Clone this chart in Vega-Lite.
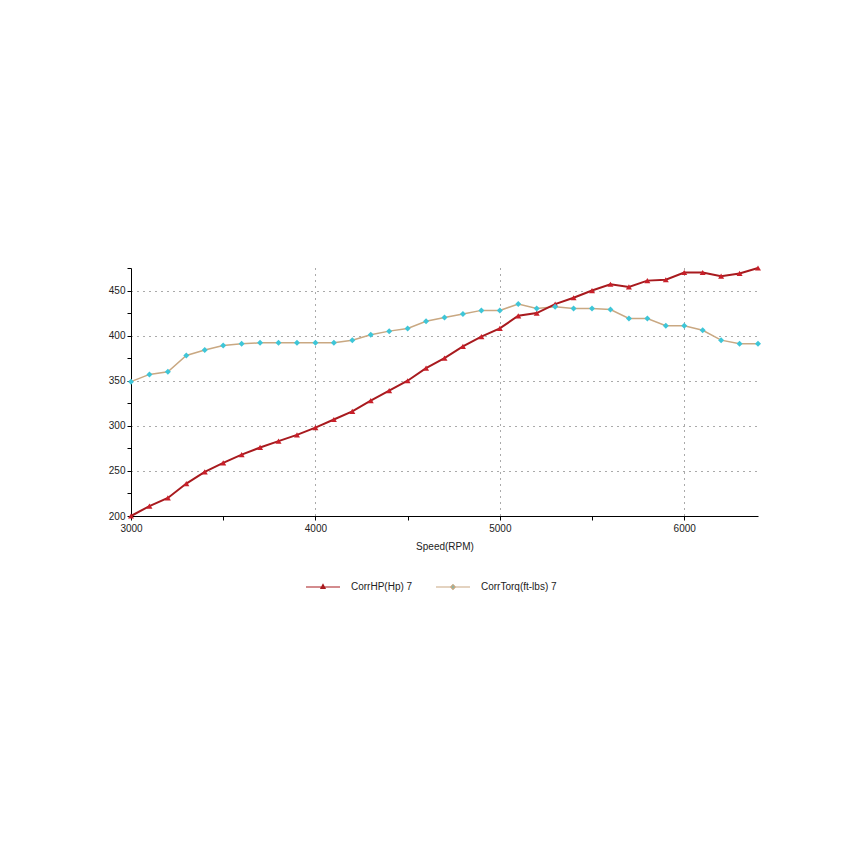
{
  "$schema": "https://vega.github.io/schema/vega-lite/v6.json",
  "width": 627,
  "height": 248,
  "autosize": {"type": "none"},
  "padding": {"left": 131, "top": 268, "right": 92, "bottom": 334},
  "background": "white",
  "config": {
    "view": {"stroke": null},
    "font": "Liberation Sans",
    "axis": {"labelFont": "Liberation Sans", "titleFont": "Liberation Sans", "labelFontSize": 10, "labelColor": "#222", "titleColor": "#222", "titleFontWeight": "normal", "titleFontSize": 10, "domainColor": "#000", "tickColor": "#000", "gridColor": "#555", "gridDash": [1, 5]},
    "legend": {"labelFont": "Liberation Sans", "labelFontSize": 10, "labelColor": "#222"}
  },
  "data": {
    "values": [
      {"rpm": 3000, "series": "CorrHP(Hp) 7", "value": 200},
      {"rpm": 3100, "series": "CorrHP(Hp) 7", "value": 211},
      {"rpm": 3200, "series": "CorrHP(Hp) 7", "value": 220},
      {"rpm": 3300, "series": "CorrHP(Hp) 7", "value": 236},
      {"rpm": 3400, "series": "CorrHP(Hp) 7", "value": 249},
      {"rpm": 3500, "series": "CorrHP(Hp) 7", "value": 259},
      {"rpm": 3600, "series": "CorrHP(Hp) 7", "value": 268},
      {"rpm": 3700, "series": "CorrHP(Hp) 7", "value": 276},
      {"rpm": 3800, "series": "CorrHP(Hp) 7", "value": 283},
      {"rpm": 3900, "series": "CorrHP(Hp) 7", "value": 290},
      {"rpm": 4000, "series": "CorrHP(Hp) 7", "value": 298},
      {"rpm": 4100, "series": "CorrHP(Hp) 7", "value": 307},
      {"rpm": 4200, "series": "CorrHP(Hp) 7", "value": 316},
      {"rpm": 4300, "series": "CorrHP(Hp) 7", "value": 328},
      {"rpm": 4400, "series": "CorrHP(Hp) 7", "value": 339},
      {"rpm": 4500, "series": "CorrHP(Hp) 7", "value": 350},
      {"rpm": 4600, "series": "CorrHP(Hp) 7", "value": 364},
      {"rpm": 4700, "series": "CorrHP(Hp) 7", "value": 375},
      {"rpm": 4800, "series": "CorrHP(Hp) 7", "value": 388},
      {"rpm": 4900, "series": "CorrHP(Hp) 7", "value": 399},
      {"rpm": 5000, "series": "CorrHP(Hp) 7", "value": 408},
      {"rpm": 5100, "series": "CorrHP(Hp) 7", "value": 422},
      {"rpm": 5200, "series": "CorrHP(Hp) 7", "value": 425},
      {"rpm": 5300, "series": "CorrHP(Hp) 7", "value": 435},
      {"rpm": 5400, "series": "CorrHP(Hp) 7", "value": 442},
      {"rpm": 5500, "series": "CorrHP(Hp) 7", "value": 450},
      {"rpm": 5600, "series": "CorrHP(Hp) 7", "value": 457},
      {"rpm": 5700, "series": "CorrHP(Hp) 7", "value": 454},
      {"rpm": 5800, "series": "CorrHP(Hp) 7", "value": 461},
      {"rpm": 5900, "series": "CorrHP(Hp) 7", "value": 462},
      {"rpm": 6000, "series": "CorrHP(Hp) 7", "value": 470},
      {"rpm": 6100, "series": "CorrHP(Hp) 7", "value": 470},
      {"rpm": 6200, "series": "CorrHP(Hp) 7", "value": 466},
      {"rpm": 6300, "series": "CorrHP(Hp) 7", "value": 469},
      {"rpm": 6400, "series": "CorrHP(Hp) 7", "value": 475},
      {"rpm": 3000, "series": "CorrTorq(ft-lbs) 7", "value": 349},
      {"rpm": 3100, "series": "CorrTorq(ft-lbs) 7", "value": 357},
      {"rpm": 3200, "series": "CorrTorq(ft-lbs) 7", "value": 360},
      {"rpm": 3300, "series": "CorrTorq(ft-lbs) 7", "value": 378},
      {"rpm": 3400, "series": "CorrTorq(ft-lbs) 7", "value": 384},
      {"rpm": 3500, "series": "CorrTorq(ft-lbs) 7", "value": 389},
      {"rpm": 3600, "series": "CorrTorq(ft-lbs) 7", "value": 391},
      {"rpm": 3700, "series": "CorrTorq(ft-lbs) 7", "value": 392},
      {"rpm": 3800, "series": "CorrTorq(ft-lbs) 7", "value": 392},
      {"rpm": 3900, "series": "CorrTorq(ft-lbs) 7", "value": 392},
      {"rpm": 4000, "series": "CorrTorq(ft-lbs) 7", "value": 392},
      {"rpm": 4100, "series": "CorrTorq(ft-lbs) 7", "value": 392},
      {"rpm": 4200, "series": "CorrTorq(ft-lbs) 7", "value": 395},
      {"rpm": 4300, "series": "CorrTorq(ft-lbs) 7", "value": 401},
      {"rpm": 4400, "series": "CorrTorq(ft-lbs) 7", "value": 405},
      {"rpm": 4500, "series": "CorrTorq(ft-lbs) 7", "value": 408},
      {"rpm": 4600, "series": "CorrTorq(ft-lbs) 7", "value": 416},
      {"rpm": 4700, "series": "CorrTorq(ft-lbs) 7", "value": 420},
      {"rpm": 4800, "series": "CorrTorq(ft-lbs) 7", "value": 424},
      {"rpm": 4900, "series": "CorrTorq(ft-lbs) 7", "value": 428},
      {"rpm": 5000, "series": "CorrTorq(ft-lbs) 7", "value": 428},
      {"rpm": 5100, "series": "CorrTorq(ft-lbs) 7", "value": 435},
      {"rpm": 5200, "series": "CorrTorq(ft-lbs) 7", "value": 430},
      {"rpm": 5300, "series": "CorrTorq(ft-lbs) 7", "value": 432},
      {"rpm": 5400, "series": "CorrTorq(ft-lbs) 7", "value": 430},
      {"rpm": 5500, "series": "CorrTorq(ft-lbs) 7", "value": 430},
      {"rpm": 5600, "series": "CorrTorq(ft-lbs) 7", "value": 429},
      {"rpm": 5700, "series": "CorrTorq(ft-lbs) 7", "value": 419},
      {"rpm": 5800, "series": "CorrTorq(ft-lbs) 7", "value": 419},
      {"rpm": 5900, "series": "CorrTorq(ft-lbs) 7", "value": 411},
      {"rpm": 6000, "series": "CorrTorq(ft-lbs) 7", "value": 411},
      {"rpm": 6100, "series": "CorrTorq(ft-lbs) 7", "value": 406},
      {"rpm": 6200, "series": "CorrTorq(ft-lbs) 7", "value": 395},
      {"rpm": 6300, "series": "CorrTorq(ft-lbs) 7", "value": 391},
      {"rpm": 6400, "series": "CorrTorq(ft-lbs) 7", "value": 391}
    ]
  },
  "encoding": {
    "x": {
      "field": "rpm", "type": "quantitative",
      "scale": {"domain": [3000, 6400], "nice": false, "zero": false},
      "axis": {
        "title": "Speed(RPM)",
        "titlePadding": 8,
        "values": [3000, 3500, 4000, 4500, 5000, 5500, 6000],
        "labelExpr": "datum.value % 1000 === 0 ? datum.label : ''",
        "format": "d",
        "labelFlush": false,
        "tickSize": 4,
        "labelPadding": 3,
        "grid": true,
        "gridOpacity": {"condition": {"test": "datum.value % 1000 === 0 && datum.value > 3000", "value": 1}, "value": 0}
      }
    },
    "y": {
      "field": "value", "type": "quantitative",
      "scale": {"domain": [200, 475], "nice": false, "zero": false},
      "axis": {
        "title": null,
        "values": [200, 225, 250, 275, 300, 325, 350, 375, 400, 425, 450, 475],
        "labelExpr": "datum.value % 50 === 0 ? datum.label : ''",
        "labelFlush": false,
        "tickSize": 4,
        "labelPadding": 2,
        "grid": true,
        "gridOpacity": {"condition": {"test": "datum.value % 50 === 0 && datum.value > 200", "value": 1}, "value": 0}
      }
    }
  },
  "layer": [
    {
      "transform": [{"filter": "datum.series === 'CorrTorq(ft-lbs) 7'"}],
      "mark": {"type": "line", "color": "#C9A882", "strokeWidth": 1.5},
      "encoding": {}
    },
    {
      "transform": [{"filter": "datum.series === 'CorrHP(Hp) 7'"}],
      "mark": {"type": "line", "color": "#A81A1E", "strokeWidth": 2},
      "encoding": {}
    },
    {
      "mark": {"type": "point", "filled": true, "opacity": 1, "size": 36},
      "encoding": {
        "fill": {
          "field": "series", "type": "nominal",
          "scale": {"domain": ["CorrHP(Hp) 7", "CorrTorq(ft-lbs) 7"], "range": ["#C8202A", "#3EC6D8"]},
          "legend": null
        },
        "shape": {
          "field": "series", "type": "nominal",
          "scale": {"domain": ["CorrHP(Hp) 7", "CorrTorq(ft-lbs) 7"], "range": ["triangle-up", "diamond"]},
          "legend": null
        }
      }
    },
    {
      "transform": [{"filter": "false"}],
      "mark": {"type": "point", "filled": true, "opacity": 1, "strokeWidth": 1.2},
      "encoding": {
        "fill": {
          "field": "series", "type": "nominal",
          "scale": {"domain": ["CorrHP(Hp) 7", "CorrTorq(ft-lbs) 7"], "range": ["#C8202A", "#3EC6D8"]},
          "legend": {
            "title": null, "orient": "none", "direction": "horizontal",
            "legendX": 174, "legendY": 301, "symbolSize": 1156, "symbolStrokeWidth": 1.2, "symbolOpacity": 1,
            "columnPadding": 20, "labelOffset": 10
          }
        },
        "stroke": {
          "field": "series", "type": "nominal",
          "scale": {"domain": ["CorrHP(Hp) 7", "CorrTorq(ft-lbs) 7"], "range": ["#A81A1E", "#C9A882"]}
        },
        "shape": {
          "field": "series", "type": "nominal",
          "scale": {"domain": ["CorrHP(Hp) 7", "CorrTorq(ft-lbs) 7"], "range": ["M-1,0L1,0M0,-0.14L0.12,0.08L-0.12,0.08Z", "M-1,0L1,0M0,-0.14L0.14,0L0,0.14L-0.14,0Z"]}
        }
      }
    }
  ],
  "resolve": {"scale": {"fill": "independent", "shape": "independent", "stroke": "independent"}}
}
